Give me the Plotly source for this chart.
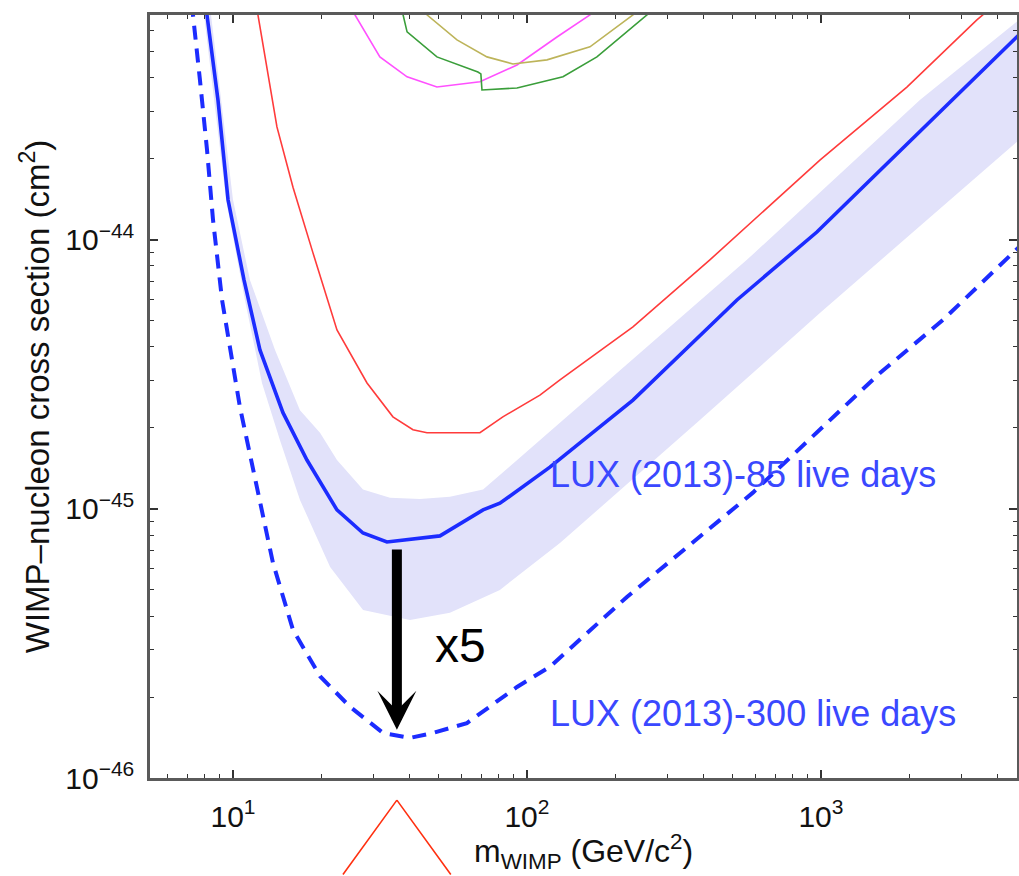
import numpy as np
import plotly.graph_objects as go

# ---------------- data (mass in GeV/c^2, cross section in cm^2) ----------------
# LUX (2013) 85 live days limit
lux85_m = [7.8, 8.16, 8.89, 9.62, 10.9, 12.35, 14.79, 17.85, 22.58, 27.68, 33.4, 50.6,
           70.9, 80.9, 119.7, 229.4, 518, 969, 2171, 4642, 5000]
lux85_s = [1.0e-43, 6.86e-44, 3.31e-44, 1.41e-44, 7.10e-45, 3.90e-45, 2.28e-45, 1.52e-45,
           9.92e-46, 8.14e-46, 7.54e-46, 7.94e-46, 9.92e-46, 1.05e-45, 1.43e-45, 2.54e-45,
           5.98e-45, 1.07e-44, 2.54e-44, 5.68e-44, 6.15e-44]

# expected-sensitivity band (upper and lower edges)
band_up_m = [8.03, 8.42, 10.0, 11.42, 13.9, 16.9, 19.77, 22.58, 27.68, 34.2, 43.25, 54.7,
             70.9, 129.5, 560, 992, 2171, 4716, 5000]
band_up_s = [9.26e-44, 6.86e-44, 1.41e-44, 7.10e-45, 3.90e-45, 2.33e-45, 1.92e-45, 1.52e-45,
             1.18e-45, 1.10e-45, 1.09e-45, 1.11e-45, 1.18e-45, 2.09e-45, 8.43e-45, 1.50e-44,
             3.31e-44, 6.57e-44, 7.10e-44]
band_lo_m = [7.60, 7.97, 9.47, 10.98, 12.55, 14.45, 16.9, 21.4, 27.7, 40.0, 54.7, 80.9,
             129.5, 387.6, 992, 4716, 5000]
band_lo_s = [9.26e-44, 6.86e-44, 1.41e-44, 5.98e-45, 2.94e-45, 1.80e-45, 1.08e-45, 6.08e-46,
             4.21e-46, 3.87e-46, 4.11e-46, 5.00e-46, 7.47e-46, 2.14e-45, 5.35e-45, 2.35e-44,
             2.49e-44]

# LUX (2013) 300 live days projection
lux300_m = [7.14, 7.31, 7.72, 8.16, 8.55, 9.18, 10.56, 12.07, 13.68, 16.0, 19.77, 25.0,
            32.4, 40.0, 47.9, 62.5, 92.5, 119.7, 218.8, 587, 1588, 2600, 4716, 5000]
lux300_s = [9.26e-44, 6.86e-44, 3.93e-44, 2.16e-44, 1.19e-44, 5.98e-45, 2.39e-45, 1.18e-45,
            6.30e-46, 3.55e-46, 2.39e-46, 1.84e-46, 1.47e-46, 1.41e-46, 1.47e-46, 1.60e-46,
            2.18e-46, 2.59e-46, 4.71e-46, 1.15e-45, 3.20e-45, 5.04e-45, 9.42e-45, 1.00e-44]

# red limit curve
red_m = [11.79, 12.16, 14.11, 16.0, 18.71, 22.58, 28.57, 35.0, 40.95, 45.7, 69.2, 82.8,
         110.7, 129.5, 229.4, 419, 992, 1961, 3393, 3757]
red_s = [8.50e-44, 6.86e-44, 2.63e-44, 1.57e-44, 8.95e-45, 4.63e-45, 2.94e-45, 2.20e-45,
         1.97e-45, 1.92e-45, 1.92e-45, 2.20e-45, 2.65e-45, 3.02e-45, 4.75e-45, 8.43e-45,
         1.98e-44, 3.70e-44, 6.57e-44, 7.23e-44]

# upper curves
magenta_m = [25.0, 26.0, 31.6, 39.1, 49.4, 69.2, 92.5, 126.5, 163.8, 177.1]
magenta_s = [8.14e-44, 6.86e-44, 4.79e-44, 4.04e-44, 3.70e-44, 3.87e-44, 4.47e-44, 5.68e-44,
             6.86e-44, 7.29e-44]
green_m = [37.9, 37.9, 39.1, 49.4, 68.1, 69.7, 70.3, 92.5, 132.6, 173.0, 256, 272.5]
green_s = [7.47e-44, 6.86e-44, 5.93e-44, 4.79e-44, 4.21e-44, 4.14e-44, 3.61e-44, 3.67e-44,
           4.04e-44, 4.79e-44, 6.86e-44, 7.29e-44]
olive_m = [44.6, 45.7, 57.8, 73.1, 89.6, 117.0, 163.8, 229.4, 248]
olive_s = [7.47e-44, 6.86e-44, 5.54e-44, 4.79e-44, 4.51e-44, 4.67e-44, 5.22e-44, 6.86e-44,
           7.47e-44]

# annotations
arrow_m = 36.1
arrow_tail_s = 7.16e-46
arrow_tip_s = 1.51e-46
label85 = ("LUX (2013)-85 live days", 117.9, 1.34e-45)
label300 = ("LUX (2013)-300 live days", 117.9, 1.74e-46)
label_x5 = ("x5", 47.9, 3.12e-46)

x_tickvals = [10, 100, 1000]
x_ticktext = ["10<sup>1</sup>", "10<sup>2</sup>", "10<sup>3</sup>"]
y_tickvals = [1e-46, 1e-45, 1e-44]
y_ticktext = ["10<sup>−46</sup>", "10<sup>−45</sup>", "10<sup>−44</sup>"]
x_minor = [k * 10 ** d for d in range(0, 4) for k in range(2, 10)]
y_minor = [k * 10.0 ** d for d in range(-46, -43) for k in range(2, 10)]
x_title = "m<sub>WIMP</sub> (GeV/c<sup>2</sup>)"
y_title = "WIMP–nucleon cross section (cm<sup>2</sup>)"

FONT = "Liberation Sans, Arial, sans-serif"
BLUE = "#1c2cff"

fig = go.Figure()

# band polygon
fig.add_trace(go.Scatter(
    x=band_up_m + band_lo_m[::-1], y=band_up_s + band_lo_s[::-1],
    fill="toself", fillcolor="rgb(226,226,250)", line=dict(width=0),
    mode="lines", hoverinfo="skip", showlegend=False))

fig.add_trace(go.Scatter(x=red_m, y=red_s, mode="lines",
                         line=dict(color="#ff3b3b", width=1.6), showlegend=False))
fig.add_trace(go.Scatter(x=magenta_m, y=magenta_s, mode="lines",
                         line=dict(color="#ff50ff", width=1.6), showlegend=False))
fig.add_trace(go.Scatter(x=olive_m, y=olive_s, mode="lines",
                         line=dict(color="#bdb45a", width=1.6), showlegend=False))
fig.add_trace(go.Scatter(x=green_m, y=green_s, mode="lines",
                         line=dict(color="#3a9e3a", width=1.6), showlegend=False))
fig.add_trace(go.Scatter(x=lux300_m, y=lux300_s, mode="lines",
                         line=dict(color=BLUE, width=4, dash="14px,9px"),
                         showlegend=False))
fig.add_trace(go.Scatter(x=lux85_m, y=lux85_s, mode="lines",
                         line=dict(color=BLUE, width=3.6), showlegend=False))

annotations = [
    dict(x=np.log10(arrow_m), y=np.log10(arrow_tip_s), xref="x", yref="y",
         ax=np.log10(arrow_m), ay=np.log10(arrow_tail_s), axref="x", ayref="y",
         text="", showarrow=True, arrowhead=3, arrowsize=0.65, arrowwidth=10,
         arrowcolor="black", standoff=0),
    dict(x=np.log10(label85[1]), y=np.log10(label85[2]), xref="x", yref="y",
         text=label85[0], showarrow=False, xanchor="left", yanchor="middle",
         font=dict(family=FONT, size=36, color="#3a48ff")),
    dict(x=np.log10(label300[1]), y=np.log10(label300[2]), xref="x", yref="y",
         text=label300[0], showarrow=False, xanchor="left", yanchor="middle",
         font=dict(family=FONT, size=36, color="#3a48ff")),
    dict(x=np.log10(label_x5[1]), y=np.log10(label_x5[2]), xref="x", yref="y",
         text=label_x5[0], showarrow=False, xanchor="left", yanchor="middle",
         font=dict(family=FONT, size=48, color="black")),
    # x-axis title placed just under the tick labels
    dict(x=0.5, y=-0.064, xref="paper", yref="paper", text=x_title,
         showarrow=False, xanchor="center", yanchor="top",
         font=dict(family=FONT, size=32, color="#111")),
]
# red pointer under the x axis
for side in (-1, 1):
    annotations.append(dict(
        x=np.log10(arrow_m), y=-0.029, xref="x", yref="paper", text="",
        showarrow=True, arrowhead=0, arrowwidth=1.6, arrowcolor="#ff3010",
        ax=55 * side, ay=80, standoff=0, startstandoff=0))

axis_common = dict(
    type="log", showgrid=False, zeroline=False, showline=True, automargin=False,
    linecolor="#5a5a5a", linewidth=2.5, mirror="ticks",
    ticks="inside", ticklen=8, tickwidth=1.5, tickcolor="#333",
    tickfont=dict(family=FONT, size=30, color="#111"),
)

fig.update_layout(
    width=1019, height=876, autosize=False,
    margin=dict(l=150, r=2, t=15, b=98),
    paper_bgcolor="white", plot_bgcolor="white",
    showlegend=False,
    annotations=annotations,
    xaxis=dict(
        **axis_common, range=[0.7177, 3.667],
        tickmode="array", tickvals=x_tickvals, ticktext=x_ticktext,
        minor=dict(tickmode="array", tickvals=x_minor, ticks="inside", ticklen=4,
                   tickwidth=1.2, tickcolor="#333", showgrid=False),
        ticklabelstandoff=10,
    ),
    yaxis=dict(
        **axis_common, range=[-46, -43.164],
        tickmode="array", tickvals=y_tickvals, ticktext=y_ticktext,
        minor=dict(tickmode="array", tickvals=y_minor, ticks="inside", ticklen=4,
                   tickwidth=1.2, tickcolor="#333", showgrid=False),
        ticklabelstandoff=7,
        title=dict(text=y_title,
                   font=dict(family=FONT, size=33, color="#111"), standoff=6),
    ),
)

# remove the default page margin so the figure fills the window exactly
fig.write_html("out.html",
               config={"displayModeBar": False},
               post_script="document.body.style.margin='0';document.body.style.overflow='hidden';")
